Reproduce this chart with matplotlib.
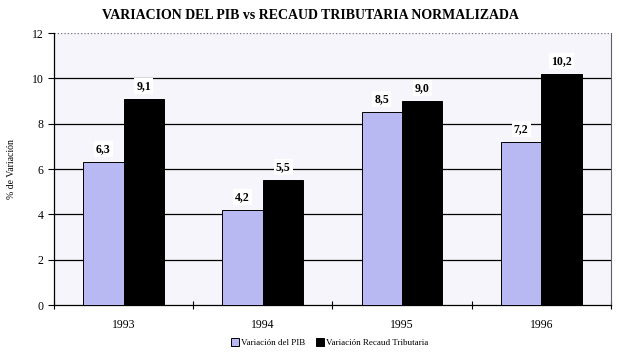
import numpy as np
import matplotlib
matplotlib.use('Agg')
import matplotlib.pyplot as plt

years = ['1993', '1994', '1995', '1996']
pib = [6.3, 4.2, 8.5, 7.2]
recaud = [9.1, 5.5, 9.0, 10.2]
serie_names = ['Variación del PIB', 'Variación Recaud Tributaria']

plt.rcParams['font.family'] = ['Liberation Serif', 'DejaVu Serif']

fig = plt.figure(figsize=(6.24, 3.55), dpi=100)
ax = fig.add_axes([0.0865, 0.1408, 0.8925, 0.7662])
ax.set_facecolor('#F5F5FB')

x = np.arange(len(years))
w = 0.29
b1 = ax.bar(x - w/2, pib, w, color='#B8B8F2', edgecolor='black', linewidth=0.7,
            label=serie_names[0], zorder=3)
b2 = ax.bar(x + w/2, recaud, w, color='black', edgecolor='black', linewidth=0.7,
            label=serie_names[1], zorder=3)

# etiquetas de valor con coma decimal
for bars, vals in ((b1, pib), (b2, recaud)):
    for r, v in zip(bars, vals):
        ax.annotate(('%.1f' % v).replace('.', ','),
                    (r.get_x() + r.get_width()/2, v),
                    xytext=(0, 13), textcoords='offset pixels',
                    ha='center', va='center', fontsize=8.5, fontweight='bold',
                    bbox=dict(facecolor='white', edgecolor='none', pad=1.5), zorder=4)

ax.set_xlim(-0.5, 3.5)
ax.set_ylim(0, 12)
ax.set_yticks(range(0, 13, 2))
ax.set_xticks(x)
ax.set_xticklabels(years)
ax.set_xticks(np.arange(-0.5, 4.0, 1.0), minor=True)
ax.tick_params(axis='x', which='major', length=0, pad=10, labelsize=8.5)
ax.tick_params(axis='x', which='minor', length=6, direction='inout', width=0.8)
ax.tick_params(axis='y', length=4, direction='out', width=0.8, labelsize=8.5)

for yv in range(2, 12, 2):
    ax.axhline(yv, color='black', linewidth=0.9, zorder=1)
ax.axhline(12, color='#707080', linewidth=0.9, linestyle=':', zorder=1)

ax.spines['top'].set_visible(False)
ax.spines['right'].set_color('#606060')
ax.spines['left'].set_linewidth(0.9)
ax.spines['bottom'].set_linewidth(0.9)

ax.set_ylabel('% de Variación', fontsize=7, labelpad=11)
fig.text(0.497, 0.955, 'VARIACION DEL PIB vs RECAUD TRIBUTARIA NORMALIZADA',
         ha='center', va='center', fontsize=10, fontweight='bold')

fig.legend(handles=[b1, b2], loc='center', bbox_to_anchor=(0.528, 0.034), ncol=2,
           frameon=False, fontsize=6.5, handlelength=0.9, handleheight=0.9,
           handletextpad=0.2, columnspacing=1.2)

fig.savefig('out.png', dpi=100)
